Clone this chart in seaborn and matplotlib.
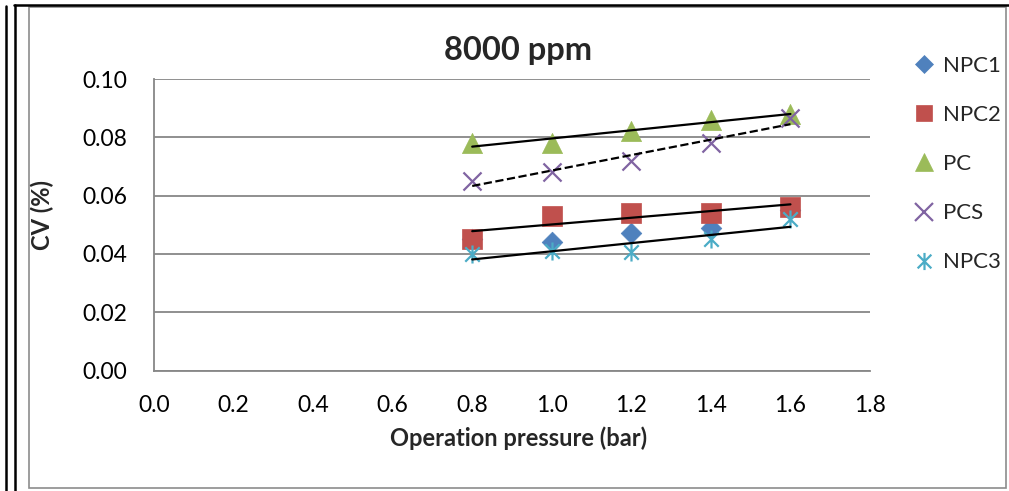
import numpy as np
import pandas as pd
import matplotlib
matplotlib.use("Agg")
import matplotlib.pyplot as plt
from matplotlib.lines import Line2D
from matplotlib.patches import Rectangle
from matplotlib.path import Path
import seaborn as sns

# data
pressure = [0.8, 1.0, 1.2, 1.4, 1.6]
npc1 = [0.045, 0.044, 0.047, 0.049, 0.055]
npc2 = [0.045, 0.053, 0.054, 0.054, 0.056]
pc = [0.078, 0.078, 0.082, 0.086, 0.088]
pcs = [0.065, 0.068, 0.072, 0.078, 0.0865]
npc3 = [0.040, 0.041, 0.0405, 0.045, 0.052]

series_names = ["NPC1", "NPC2", "PC", "PCS", "NPC3"]
x_ticks = [0.0, 0.2, 0.4, 0.6, 0.8, 1.0, 1.2, 1.4, 1.6, 1.8]
y_ticks = [0.00, 0.02, 0.04, 0.06, 0.08, 0.10]

colors = {"NPC1": "#4F81BD", "NPC2": "#C0504D", "PC": "#9BBB59",
          "PCS": "#8064A2", "NPC3": "#4BACC6"}

# asterisk like the excel one: vertical bar + X
star = Path([(0, -1), (0, 1), (-0.8, -0.8), (0.8, 0.8), (-0.8, 0.8), (0.8, -0.8)],
            [Path.MOVETO, Path.LINETO, Path.MOVETO, Path.LINETO, Path.MOVETO, Path.LINETO])

markers = {"NPC1": "D", "NPC2": "s", "PC": "^", "PCS": "x", "NPC3": star}
sizes = {"NPC1": 10.5, "NPC2": 14, "PC": 14.5, "PCS": 13, "NPC3": 13}
trend = {"NPC2": "-", "PC": "-", "PCS": "--", "NPC3": "-"}

df = pd.DataFrame({"pressure": pressure * 5,
                   "cv": npc1 + npc2 + pc + pcs + npc3,
                   "series": np.repeat(series_names, len(pressure))})

sns.set_style("white")
plt.rcParams['font.family'] = ['Lato', 'DejaVu Sans']

fig = plt.figure(figsize=(10.09, 4.91), dpi=100)
ax = fig.add_axes([154 / 1009, 1 - 370.5 / 491, 716 / 1009, 291.5 / 491])

for name in series_names:
    d = df[df["series"] == name]
    c = colors[name]
    filled = name in ("NPC1", "NPC2", "PC")
    sns.scatterplot(data=d, x="pressure", y="cv", ax=ax, marker=markers[name],
                    s=sizes[name] ** 2, color=c, edgecolor=c,
                    linewidth=0.5 if filled else 1.6, zorder=3, legend=False)

for name, ls in trend.items():
    d = df[df["series"] == name]
    sns.regplot(data=d, x="pressure", y="cv", ax=ax, scatter=False, ci=None,
                line_kws={"color": "black", "lw": 1.6, "ls": ls, "zorder": 4})

ax.set_xlim(0, 1.8)
ax.set_ylim(0, 0.10)
ax.set_xticks(x_ticks)
ax.set_yticks(y_ticks)
ax.set_xticklabels([f"{v:.1f}" for v in x_ticks])
ax.set_yticklabels([f"{v:.2f}" for v in y_ticks])
ax.tick_params(axis="both", labelsize=16.5, length=0, colors="black")
ax.tick_params(axis="y", pad=19)
ax.tick_params(axis="x", pad=18)

ax.grid(axis="y", color="#878787", lw=1.3)
ax.grid(axis="x", visible=False)
for side in ["top", "right"]:
    ax.spines[side].set_visible(False)
for side in ["left", "bottom"]:
    ax.spines[side].set_color("#878787")
    ax.spines[side].set_linewidth(1.3)

ax.set_xlabel("Operation pressure (bar)", fontsize=17, fontweight="bold")
ax.set_ylabel("CV (%)", fontsize=17, fontweight="bold")
ax.xaxis.set_label_coords((519 - 154) / 716, -(438 - 370.5) / 291.5)
ax.xaxis.label.set_va("center")
ax.yaxis.set_label_coords((42 - 154) / 716, (370.5 - 215) / 291.5)
ax.yaxis.label.set_va("center")

fig.text(518 / 1009, 1 - 50 / 491, "8000 ppm", ha="center", va="center",
         fontsize=23.5, fontweight="bold")

handles = [Line2D([], [], ls="none", marker=markers[n], color=colors[n],
                  markeredgecolor=colors[n],
                  markersize=sizes[n] * (0.85 if n in ("NPC1", "NPC2", "PC") else 0.95),
                  markeredgewidth=0.5 if n in ("NPC1", "NPC2", "PC") else 1.6)
           for n in series_names]
fig.legend(handles, series_names, loc="upper left",
           bbox_to_anchor=(913 / 1009, 1 - 56 / 491), frameon=False,
           fontsize=16, handlelength=1.0, handletextpad=0.35, labelspacing=1.31,
           borderpad=0, borderaxespad=0)

# frame lines of the page around the chart
fig.add_artist(Rectangle((29 / 1009, 1 - 488 / 491), 977 / 1009, 481 / 491,
                         transform=fig.transFigure, fill=False,
                         edgecolor="#8c8c8c", lw=1.2))
fig.add_artist(Line2D([6 / 1009, 6 / 1009], [0, 1 - 6 / 491], transform=fig.transFigure,
                      color="black", lw=1.8))
fig.add_artist(Line2D([15 / 1009, 15 / 1009], [0, 1 - 5 / 491], transform=fig.transFigure,
                      color="black", lw=1.8))
fig.add_artist(Line2D([14 / 1009, 1], [1 - 5 / 491, 1 - 5 / 491], transform=fig.transFigure,
                      color="black", lw=1.8))

fig.savefig("out.png", dpi=100)
